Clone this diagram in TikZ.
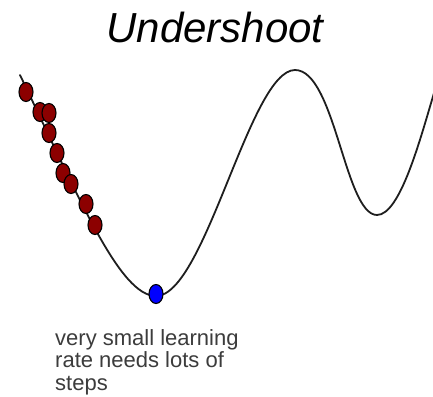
\documentclass[tikz,border=0pt]{standalone}
\usepackage{fontspec}
\setmainfont{Liberation Sans}
\definecolor{dotred}{RGB}{140,0,0}
\definecolor{dotblue}{RGB}{0,0,255}
\definecolor{curvegray}{RGB}{30,30,30}
\definecolor{captiongray}{RGB}{60,60,60}
\tikzset{
  curveline/.style={draw=curvegray, line width=1.8pt, line cap=round},
  reddot/.style={ellipse, draw=black, line width=1.1pt, fill=dotred, minimum width=14pt, minimum height=19pt, inner sep=0pt},
  bluedot/.style={ellipse, draw=black, line width=1.1pt, fill=dotblue, minimum width=14pt, minimum height=19pt, inner sep=0pt},
  titletext/.style={font=\fontsize{42}{50}\selectfont\itshape, inner sep=0pt},
  captiontext/.style={font=\fontsize{22}{22.8}\selectfont, text=captiongray, align=left, inner sep=0pt}
}
\usetikzlibrary{shapes.geometric}
\begin{document}
\begin{tikzpicture}[x=1pt,y=-1pt]
\useasboundingbox[fill=white] (0,0) rectangle (433,396);
% title
\node[titletext, anchor=base] (title) at (215,42) {Undershoot};
% loss curve
\draw[curveline] (20,75) .. controls (80,200) and (120,296) .. (156,296)
  .. controls (205,296) and (250,70) .. (295,70)
  .. controls (335,70) and (345,215) .. (377,215)
  .. controls (400,215) and (420,140) .. (434,93);
% red steps
\node[reddot] (d1) at (26,92) {};
\node[reddot] (d2) at (40,112) {};
\node[reddot] (d3) at (49,113) {};
\node[reddot] (d4) at (49,133) {};
\node[reddot] (d5) at (57,153) {};
\node[reddot] (d6) at (63,173) {};
\node[reddot] (d7) at (71,184) {};
\node[reddot] (d8) at (86,204) {};
\node[reddot] (d9) at (95,225) {};
% minimum
\node[bluedot] (min) at (156,294) {};
% caption
\node[captiontext, anchor=north west] (caption) at (55,329) {very small learning\\rate needs lots of\\steps};
\end{tikzpicture}
\end{document}
